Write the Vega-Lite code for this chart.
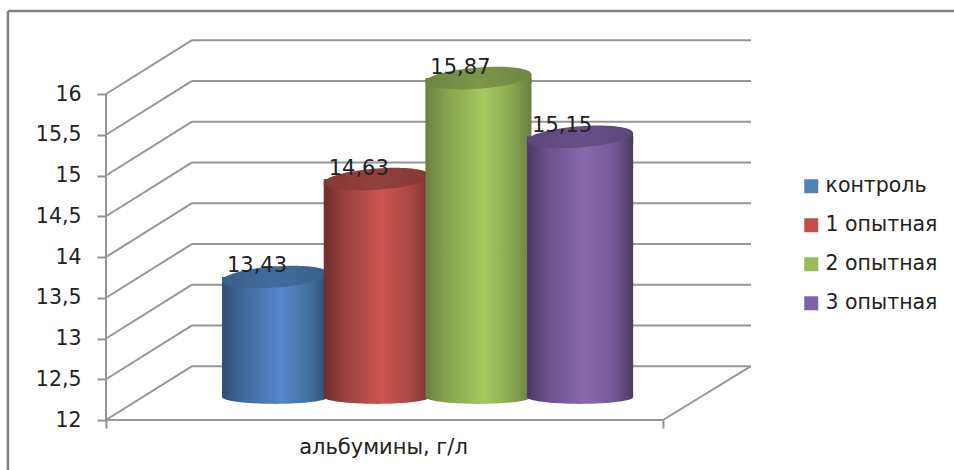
{
  "$schema": "https://vega.github.io/schema/vega-lite/v6.json",
  "width": 645,
  "height": 380,
  "autosize": "none",
  "padding": {"left": 106, "top": 40, "right": 203, "bottom": 50},
  "background": "white",
  "view": {"stroke": null},
  "datasets": {
    "cylinders": [
      {"series": "контроль", "position": 1, "value": 13.43, "label": "13,43"},
      {"series": "1 опытная", "position": 2, "value": 14.63, "label": "14,63"},
      {"series": "2 опытная", "position": 3, "value": 15.87, "label": "15,87"},
      {"series": "3 опытная", "position": 4, "value": 15.15, "label": "15,15"}
    ],
    "walls": [
      {"position": -1.626, "value": 17.018, "position2": 7.68, "value2": 17.018, "kind": "frame"},
      {"position": -1.626, "value": 17.018, "position2": -1.626, "value2": 11.387, "kind": "frame"},
      {"position": -0.662, "value": 12, "position2": -0.662, "value2": 16, "kind": "grid"},
      {"position": -0.662, "value": 12, "position2": 4.815, "value2": 12, "kind": "grid"},
      {"position": 4.815, "value": 12, "position2": 5.68, "value2": 12.66, "kind": "grid"},
      {"position": -0.662, "value": 12, "position2": 0.184, "value2": 12.66, "kind": "grid"},
      {"position": -0.662, "value": 12.5, "position2": 0.184, "value2": 13.16, "kind": "grid"},
      {"position": -0.662, "value": 13, "position2": 0.184, "value2": 13.66, "kind": "grid"},
      {"position": -0.662, "value": 13.5, "position2": 0.184, "value2": 14.16, "kind": "grid"},
      {"position": -0.662, "value": 14, "position2": 0.184, "value2": 14.66, "kind": "grid"},
      {"position": -0.662, "value": 14.5, "position2": 0.184, "value2": 15.16, "kind": "grid"},
      {"position": -0.662, "value": 15, "position2": 0.184, "value2": 15.66, "kind": "grid"},
      {"position": -0.662, "value": 15.5, "position2": 0.184, "value2": 16.16, "kind": "grid"},
      {"position": -0.662, "value": 16, "position2": 0.184, "value2": 16.66, "kind": "grid"},
      {"position": 0.184, "value": 12.66, "position2": 5.68, "value2": 12.66, "kind": "grid"},
      {"position": 0.184, "value": 13.16, "position2": 5.68, "value2": 13.16, "kind": "grid"},
      {"position": 0.184, "value": 13.66, "position2": 5.68, "value2": 13.66, "kind": "grid"},
      {"position": 0.184, "value": 14.16, "position2": 5.68, "value2": 14.16, "kind": "grid"},
      {"position": 0.184, "value": 14.66, "position2": 5.68, "value2": 14.66, "kind": "grid"},
      {"position": 0.184, "value": 15.16, "position2": 5.68, "value2": 15.16, "kind": "grid"},
      {"position": 0.184, "value": 15.66, "position2": 5.68, "value2": 15.66, "kind": "grid"},
      {"position": 0.184, "value": 16.16, "position2": 5.68, "value2": 16.16, "kind": "grid"},
      {"position": 0.184, "value": 16.66, "position2": 5.68, "value2": 16.66, "kind": "grid"}
    ]
  },
  "encoding": {
    "x": {
      "field": "position",
      "type": "quantitative",
      "scale": {"domain": [-0.662, 5.68], "nice": false, "zero": false, "padding": 0},
      "axis": {
        "values": [-0.662, 4.815],
        "labels": false,
        "domain": false,
        "grid": false,
        "ticks": true,
        "tickSize": 8,
        "tickWidth": 2,
        "tickColor": "#909090",
        "title": "альбумины, г/л",
        "titleFont": "DejaVu Sans",
        "titleFontSize": 21,
        "titleFontWeight": "normal",
        "titleColor": "#222222",
        "titleAnchor": null,
        "titleAlign": "center",
        "titleBaseline": "alphabetic",
        "titleX": 277,
        "titleY": 33
      }
    },
    "y": {
      "field": "value",
      "type": "quantitative",
      "scale": {"domain": [12, 16.6626], "nice": false, "zero": false},
      "axis": {
        "values": [12, 12.5, 13, 13.5, 14, 14.5, 15, 15.5, 16],
        "labelExpr": "replace(format(datum.value, '.3~g'), '.', ',')",
        "labelFont": "DejaVu Sans",
        "labelFontSize": 20.5,
        "labelColor": "#222222",
        "labelPadding": 16,
        "domain": false,
        "grid": false,
        "tickSize": 9,
        "tickWidth": 2,
        "tickColor": "#909090",
        "title": null
      }
    }
  },
  "layer": [
    {
      "data": {"name": "walls"},
      "transform": [{"filter": "datum.kind === 'grid'"}],
      "mark": {"type": "rule", "color": "#969696", "strokeWidth": 2},
      "encoding": {
        "x2": {"field": "position2"},
        "y2": {"field": "value2"}
      }
    },
    {
      "data": {"name": "walls"},
      "transform": [{"filter": "datum.kind === 'frame'"}],
      "mark": {"type": "rule", "color": "#808080", "strokeWidth": 2.5},
      "encoding": {
        "x2": {"field": "position2"},
        "y2": {"field": "value2"}
      }
    },
    {
      "data": {"name": "cylinders"},
      "mark": {"type": "bar", "width": 104, "yOffset": -26.5, "y2Offset": -23},
      "encoding": {
        "y2": {"datum": 12},
        "color": {
          "field": "series",
          "type": "nominal",
          "scale": {
            "domain": ["контроль", "1 опытная", "2 опытная", "3 опытная"],
            "range": ["#4F81BD", "#C0504D", "#9BBB59", "#8064A2"]
          },
          "legend": {
            "orient": "none",
            "legendX": 695,
            "legendY": 136,
            "title": null,
            "symbolType": "square",
            "symbolSize": 196,
            "symbolStrokeWidth": 0,
            "labelFont": "DejaVu Sans",
            "labelFontSize": 20.5,
            "labelColor": "#222222",
            "labelOffset": 4,
            "rowPadding": 18
          }
        }
      }
    },
    {
      "data": {"name": "cylinders"},
      "transform": [{"filter": "datum.series === 'контроль'"}],
      "layer": [
        {
          "mark": {"type": "point", "filled": true, "opacity": 1, "yOffset": -23, "size": 11236, "shape": "M-1,0A1,.13 0 0,0 1,0Z",
            "fill": {"gradient": "linear", "x1": 0, "x2": 1, "y1": 0, "y2": 0, "stops": [{"offset": 0, "color": "#2f4d72"}, {"offset": 0.18, "color": "#3f6699"}, {"offset": 0.55, "color": "#5588cc"}, {"offset": 0.82, "color": "#44709f"}, {"offset": 1, "color": "#2f4d72"}]}},
          "encoding": {"y": {"datum": 12}}
        },
        {
          "mark": {"type": "bar", "width": 106, "yOffset": -26.5, "y2Offset": -23,
            "fill": {"gradient": "linear", "x1": 0, "x2": 1, "y1": 0, "y2": 0, "stops": [{"offset": 0, "color": "#2f4d72"}, {"offset": 0.18, "color": "#3f6699"}, {"offset": 0.55, "color": "#5588cc"}, {"offset": 0.82, "color": "#44709f"}, {"offset": 1, "color": "#2f4d72"}]}},
          "encoding": {"y2": {"datum": 12}}
        },
        {
          "mark": {"type": "point", "filled": true, "opacity": 1, "yOffset": -26.5, "size": 11236, "shape": "M-1,.075L1,-.075L1,.12L-1,.12Z",
            "fill": {"gradient": "linear", "x1": 0, "x2": 1, "y1": 0, "y2": 0, "stops": [{"offset": 0, "color": "#2f4d72"}, {"offset": 0.18, "color": "#3f6699"}, {"offset": 0.55, "color": "#5588cc"}, {"offset": 0.82, "color": "#44709f"}, {"offset": 1, "color": "#2f4d72"}]}}
        },
        {
          "mark": {"type": "point", "filled": true, "opacity": 1, "yOffset": -26.5, "size": 11236, "shape": "M-1,.075A1,.2 -4.3 1,1 1,-.075A1,.2 -4.3 1,1 -1,.075Z",
            "fill": {"gradient": "linear", "x1": 0, "x2": 1, "y1": 0, "y2": 0, "stops": [{"offset": 0, "color": "#3a5e8a"}, {"offset": 0.5, "color": "#426c9e"}, {"offset": 1, "color": "#3a5e8a"}]}}
        }
      ]
    },
    {
      "data": {"name": "cylinders"},
      "transform": [{"filter": "datum.series === '1 опытная'"}],
      "layer": [
        {
          "mark": {"type": "point", "filled": true, "opacity": 1, "yOffset": -23, "size": 11236, "shape": "M-1,0A1,.13 0 0,0 1,0Z",
            "fill": {"gradient": "linear", "x1": 0, "x2": 1, "y1": 0, "y2": 0, "stops": [{"offset": 0, "color": "#6e2e2c"}, {"offset": 0.18, "color": "#96403e"}, {"offset": 0.55, "color": "#cc5550"}, {"offset": 0.82, "color": "#a84744"}, {"offset": 1, "color": "#7a3431"}]}},
          "encoding": {"y": {"datum": 12}}
        },
        {
          "mark": {"type": "bar", "width": 106, "yOffset": -26.5, "y2Offset": -23,
            "fill": {"gradient": "linear", "x1": 0, "x2": 1, "y1": 0, "y2": 0, "stops": [{"offset": 0, "color": "#6e2e2c"}, {"offset": 0.18, "color": "#96403e"}, {"offset": 0.55, "color": "#cc5550"}, {"offset": 0.82, "color": "#a84744"}, {"offset": 1, "color": "#7a3431"}]}},
          "encoding": {"y2": {"datum": 12}}
        },
        {
          "mark": {"type": "point", "filled": true, "opacity": 1, "yOffset": -26.5, "size": 11236, "shape": "M-1,.075L1,-.075L1,.12L-1,.12Z",
            "fill": {"gradient": "linear", "x1": 0, "x2": 1, "y1": 0, "y2": 0, "stops": [{"offset": 0, "color": "#6e2e2c"}, {"offset": 0.18, "color": "#96403e"}, {"offset": 0.55, "color": "#cc5550"}, {"offset": 0.82, "color": "#a84744"}, {"offset": 1, "color": "#7a3431"}]}}
        },
        {
          "mark": {"type": "point", "filled": true, "opacity": 1, "yOffset": -26.5, "size": 11236, "shape": "M-1,.075A1,.2 -4.3 1,1 1,-.075A1,.2 -4.3 1,1 -1,.075Z",
            "fill": {"gradient": "linear", "x1": 0, "x2": 1, "y1": 0, "y2": 0, "stops": [{"offset": 0, "color": "#843936"}, {"offset": 0.5, "color": "#943f3c"}, {"offset": 1, "color": "#843936"}]}}
        }
      ]
    },
    {
      "data": {"name": "cylinders"},
      "transform": [{"filter": "datum.series === '2 опытная'"}],
      "layer": [
        {
          "mark": {"type": "point", "filled": true, "opacity": 1, "yOffset": -23, "size": 11236, "shape": "M-1,0A1,.13 0 0,0 1,0Z",
            "fill": {"gradient": "linear", "x1": 0, "x2": 1, "y1": 0, "y2": 0, "stops": [{"offset": 0, "color": "#6a8040"}, {"offset": 0.18, "color": "#85a04e"}, {"offset": 0.55, "color": "#a6c95f"}, {"offset": 0.82, "color": "#8aa551"}, {"offset": 1, "color": "#687e3f"}]}},
          "encoding": {"y": {"datum": 12}}
        },
        {
          "mark": {"type": "bar", "width": 106, "yOffset": -26.5, "y2Offset": -23,
            "fill": {"gradient": "linear", "x1": 0, "x2": 1, "y1": 0, "y2": 0, "stops": [{"offset": 0, "color": "#6a8040"}, {"offset": 0.18, "color": "#85a04e"}, {"offset": 0.55, "color": "#a6c95f"}, {"offset": 0.82, "color": "#8aa551"}, {"offset": 1, "color": "#687e3f"}]}},
          "encoding": {"y2": {"datum": 12}}
        },
        {
          "mark": {"type": "point", "filled": true, "opacity": 1, "yOffset": -26.5, "size": 11236, "shape": "M-1,.075L1,-.075L1,.12L-1,.12Z",
            "fill": {"gradient": "linear", "x1": 0, "x2": 1, "y1": 0, "y2": 0, "stops": [{"offset": 0, "color": "#6a8040"}, {"offset": 0.18, "color": "#85a04e"}, {"offset": 0.55, "color": "#a6c95f"}, {"offset": 0.82, "color": "#8aa551"}, {"offset": 1, "color": "#687e3f"}]}}
        },
        {
          "mark": {"type": "point", "filled": true, "opacity": 1, "yOffset": -26.5, "size": 11236, "shape": "M-1,.075A1,.2 -4.3 1,1 1,-.075A1,.2 -4.3 1,1 -1,.075Z",
            "fill": {"gradient": "linear", "x1": 0, "x2": 1, "y1": 0, "y2": 0, "stops": [{"offset": 0, "color": "#6f8543"}, {"offset": 0.5, "color": "#7d9649"}, {"offset": 1, "color": "#6f8543"}]}}
        }
      ]
    },
    {
      "data": {"name": "cylinders"},
      "transform": [{"filter": "datum.series === '3 опытная'"}],
      "layer": [
        {
          "mark": {"type": "point", "filled": true, "opacity": 1, "yOffset": -23, "size": 11236, "shape": "M-1,0A1,.13 0 0,0 1,0Z",
            "fill": {"gradient": "linear", "x1": 0, "x2": 1, "y1": 0, "y2": 0, "stops": [{"offset": 0, "color": "#4a3a62"}, {"offset": 0.18, "color": "#6a5088"}, {"offset": 0.55, "color": "#8a68ac"}, {"offset": 0.82, "color": "#745a94"}, {"offset": 1, "color": "#4a3a62"}]}},
          "encoding": {"y": {"datum": 12}}
        },
        {
          "mark": {"type": "bar", "width": 106, "yOffset": -26.5, "y2Offset": -23,
            "fill": {"gradient": "linear", "x1": 0, "x2": 1, "y1": 0, "y2": 0, "stops": [{"offset": 0, "color": "#4a3a62"}, {"offset": 0.18, "color": "#6a5088"}, {"offset": 0.55, "color": "#8a68ac"}, {"offset": 0.82, "color": "#745a94"}, {"offset": 1, "color": "#4a3a62"}]}},
          "encoding": {"y2": {"datum": 12}}
        },
        {
          "mark": {"type": "point", "filled": true, "opacity": 1, "yOffset": -26.5, "size": 11236, "shape": "M-1,.075L1,-.075L1,.12L-1,.12Z",
            "fill": {"gradient": "linear", "x1": 0, "x2": 1, "y1": 0, "y2": 0, "stops": [{"offset": 0, "color": "#4a3a62"}, {"offset": 0.18, "color": "#6a5088"}, {"offset": 0.55, "color": "#8a68ac"}, {"offset": 0.82, "color": "#745a94"}, {"offset": 1, "color": "#4a3a62"}]}}
        },
        {
          "mark": {"type": "point", "filled": true, "opacity": 1, "yOffset": -26.5, "size": 11236, "shape": "M-1,.075A1,.2 -4.3 1,1 1,-.075A1,.2 -4.3 1,1 -1,.075Z",
            "fill": {"gradient": "linear", "x1": 0, "x2": 1, "y1": 0, "y2": 0, "stops": [{"offset": 0, "color": "#5c4878"}, {"offset": 0.5, "color": "#664f85"}, {"offset": 1, "color": "#5c4878"}]}}
        }
      ]
    },
    {
      "data": {"name": "cylinders"},
      "mark": {"type": "text", "xOffset": -18, "yOffset": -31, "baseline": "alphabetic", "align": "center", "font": "DejaVu Sans", "fontSize": 21, "color": "#222222"},
      "encoding": {"text": {"field": "label"}}
    }
  ]
}
